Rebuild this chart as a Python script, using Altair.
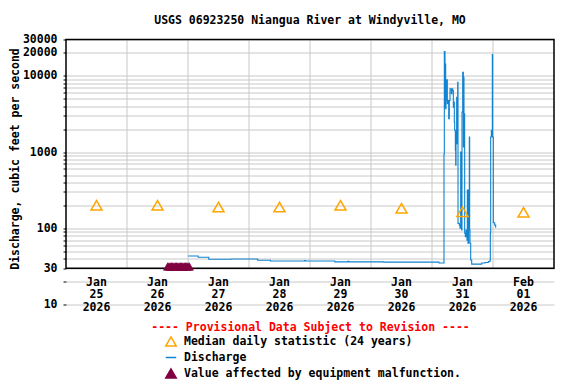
import altair as alt
import pandas as pd

FONT = "DejaVu Sans Mono"
BLUE = "#1084d0"
ORANGE = "#ffa500"
MAROON = "#800040"
GRID = "#c8c8c8"

title_text = "USGS 06923250 Niangua River at Windyville, MO"
y_title = "Discharge, cubic feet per second"
provisional = "---- Provisional Data Subject to Revision ----"
series_names = ["Median daily statistic (24 years)", "Discharge",
                "Value affected by equipment malfunction."]
series_colors = [ORANGE, BLUE, MAROON]

# x tick labels (placed at noon of each day)
day_label_times = ["2026-01-25 12:00", "2026-01-26 12:00", "2026-01-27 12:00", "2026-01-28 12:00",
                   "2026-01-29 12:00", "2026-01-30 12:00", "2026-01-31 12:00", "2026-02-01 12:00"]
day_label_text = ["Jan\n25\n2026", "Jan\n26\n2026", "Jan\n27\n2026", "Jan\n28\n2026",
                  "Jan\n29\n2026", "Jan\n30\n2026", "Jan\n31\n2026", "Feb\n01\n2026"]
day_boundaries = ["2026-01-26 00:00", "2026-01-27 00:00", "2026-01-28 00:00", "2026-01-29 00:00",
                  "2026-01-30 00:00", "2026-01-31 00:00", "2026-02-01 00:00"]

# median daily statistic
median_times = ["2026-01-25 12:00", "2026-01-26 12:00", "2026-01-27 12:00", "2026-01-28 12:00",
                "2026-01-29 12:00", "2026-01-30 12:00", "2026-01-31 12:00", "2026-02-01 12:00"]
median_values = [200, 200, 190, 190, 200, 183, 165, 162]

# equipment malfunction markers
malf_times = ["2026-01-26 16:00", "2026-01-26 16:30", "2026-01-26 17:00", "2026-01-26 17:30",
              "2026-01-26 18:00", "2026-01-26 18:30", "2026-01-26 19:00", "2026-01-26 19:30",
              "2026-01-26 20:00", "2026-01-26 20:30", "2026-01-26 21:00", "2026-01-26 21:30",
              "2026-01-26 22:00", "2026-01-26 22:30", "2026-01-26 23:00", "2026-01-26 23:30",
              "2026-01-27 00:00", "2026-01-27 00:30"]
malf_values = [31.6, 31.6, 31.6, 31.6, 31.6, 31.6, 31.6, 31.6, 31.6,
               31.6, 31.6, 31.6, 31.6, 31.6, 31.6, 31.6, 31.6, 31.6]

# discharge
q_times = ["2026-01-27 00:00", "2026-01-27 04:00", "2026-01-27 08:10", "2026-01-27 17:00",
           "2026-01-28 03:25", "2026-01-28 08:25", "2026-01-28 21:50", "2026-01-28 22:20",
           "2026-01-29 09:45", "2026-01-29 14:50", "2026-01-29 15:20", "2026-01-30 05:00",
           "2026-01-31 02:45", "2026-01-31 04:43", "2026-01-31 04:51", "2026-01-31 05:07",
           "2026-01-31 05:15", "2026-01-31 05:23", "2026-01-31 05:30", "2026-01-31 05:46",
           "2026-01-31 06:02", "2026-01-31 06:18", "2026-01-31 06:34", "2026-01-31 06:49",
           "2026-01-31 07:05", "2026-01-31 07:21", "2026-01-31 07:36", "2026-01-31 07:52",
           "2026-01-31 08:08", "2026-01-31 08:24", "2026-01-31 08:31", "2026-01-31 08:47",
           "2026-01-31 08:55", "2026-01-31 09:11", "2026-01-31 09:19", "2026-01-31 09:27",
           "2026-01-31 09:42", "2026-01-31 09:50", "2026-01-31 10:06", "2026-01-31 10:14",
           "2026-01-31 10:45", "2026-01-31 11:01", "2026-01-31 11:17", "2026-01-31 11:32",
           "2026-01-31 11:40", "2026-01-31 11:48", "2026-01-31 12:04", "2026-01-31 12:20",
           "2026-01-31 12:28", "2026-01-31 12:35", "2026-01-31 12:51", "2026-01-31 13:07",
           "2026-01-31 13:23", "2026-01-31 13:38", "2026-01-31 13:46", "2026-01-31 13:54",
           "2026-01-31 14:10", "2026-01-31 14:26", "2026-01-31 14:41", "2026-01-31 14:49",
           "2026-01-31 14:57", "2026-01-31 15:13", "2026-01-31 15:37", "2026-01-31 19:33",
           "2026-01-31 20:51", "2026-01-31 22:10", "2026-01-31 22:49", "2026-01-31 22:57",
           "2026-01-31 23:05", "2026-01-31 23:21", "2026-01-31 23:37", "2026-01-31 23:44",
           "2026-01-31 23:52", "2026-02-01 00:08", "2026-02-01 00:40", "2026-02-01 01:03",
           "2026-02-01 01:15"]
q_values = [43.3, 41.7, 39.3, 39.6,
            38.1, 37.3, 37.8, 37.3,
            36.3, 37.0, 36.3, 36.0,
            35.0, 935, 20800, 3890,
            14300, 3700, 4750, 8860,
            4300, 4750, 2740, 4750,
            6750, 6750, 5820, 6750,
            6420, 3890, 4520, 2470,
            1930, 1055, 672, 1930,
            5250, 1290, 8250, 116,
            110, 100, 1000, 116,
            95, 3340, 11100, 1170,
            9590, 3180, 86, 77.5,
            95, 81.6, 70, 317,
            63.5, 317, 1575, 95,
            63.5, 38.4, 33.9, 35.0,
            35.5, 36.6, 38.4, 86,
            1575, 1930, 1575, 19000,
            1575, 118, 110, 103,
            103]

y_grid_values = [10, 20, 30, 40, 50, 60, 70, 80, 90,
                 100, 200, 300, 400, 500, 600, 700, 800, 900,
                 1000, 2000, 3000, 4000, 5000, 6000, 7000, 8000, 9000,
                 10000, 20000, 30000]
y_label_values = [10, 30, 100, 1000, 10000, 20000, 30000]

frame_start = "2026-01-25 00:00"
frame_end = "2026-02-02 00:00"
frame_low = 30
frame_high = 30000
label_level = 20

# ---------------- data tables ----------------
df_q = pd.DataFrame({"t": q_times, "v": q_values, "s": series_names[1]})
df_med = pd.DataFrame({"t": median_times, "v": median_values, "s": series_names[0]})
df_malf = pd.DataFrame({"t": malf_times, "v": malf_values, "s": series_names[2]})
df_lab = pd.DataFrame({"t": day_label_times, "lab": day_label_text, "v": label_level})
df_vr = pd.DataFrame({"t": day_boundaries, "v": frame_low, "v2": frame_high})
df_frame = pd.DataFrame({"t": [frame_start], "t2": [frame_end], "v": [frame_low], "v2": [frame_high]})

# ---------------- scales / axes ----------------
x_scale = alt.Scale(domain=[alt.DateTime(year=2026, month=1, date=25, hours=0),
                            alt.DateTime(year=2026, month=2, date=2, hours=0)])
x_axis = alt.Axis(title=provisional, labels=False, ticks=False, domain=False, grid=False,
                  titleColor="red", titleFont=FONT, titleFontSize=11.5, titleFontWeight="bold",
                  titlePadding=17)

label_list = ",".join(str(v) for v in y_label_values)
y_scale = alt.Scale(type="log", domain=[10, 30000], nice=False)
y_axis = alt.Axis(values=y_grid_values, format="d",
                  labelExpr=f"indexof([{label_list}], datum.value) >= 0 ? datum.label : ''",
                  grid=True, gridColor=GRID, gridWidth=1,
                  ticks=True, tickColor="black", tickSize=3, tickWidth=1, domain=False,
                  labelFont=FONT, labelFontSize=11.5, labelFontWeight="bold", labelColor="black",
                  labelPadding=6, labelOverlap=False, labelFlush=False,
                  title=y_title, titleFont=FONT, titleFontSize=11.5, titleFontWeight="bold",
                  titleColor="black", titleX=-51, titleY=119, titleBaseline="middle")

X = alt.X("t:T", scale=x_scale, axis=x_axis)
Y = alt.Y("v:Q", scale=y_scale, axis=y_axis)

is_q = "datum.value === 'Discharge'"
is_m = "datum.value === 'Median daily statistic (24 years)'"
legend = alt.Legend(
    title=None, orient="none", legendX=99, legendY=296, direction="vertical",
    labelFont=FONT, labelFontSize=11.5, labelFontWeight="bold", labelColor="black",
    labelOffset=7, labelLimit=400, rowPadding=2, symbolSize=110, symbolStrokeWidth=1.5, padding=0,
    symbolType=alt.ExprRef(expr=f"{is_q} ? 'stroke' : 'triangle-up'"),
    symbolFillColor=alt.ExprRef(expr=f"({is_q} || {is_m}) ? 'transparent' : '{MAROON}'"),
)
stroke_scale = alt.Scale(domain=series_names, range=series_colors)
S = alt.Stroke("s:N", scale=stroke_scale, legend=legend)
S_nolegend = alt.Stroke("s:N", scale=stroke_scale, legend=None)

vrules = alt.Chart(df_vr).mark_rule(color=GRID, strokeWidth=1).encode(x=X, y=Y, y2="v2")
labels = alt.Chart(df_lab).mark_text(font=FONT, fontSize=11.5, fontWeight="bold", color="black",
                                     lineBreak="\n", lineHeight=12.8, baseline="middle", dy=1).encode(
    x=X, y=Y, text="lab:N")
line = alt.Chart(df_q).mark_line(interpolate="step-after", strokeWidth=1.1).encode(x=X, y=Y, stroke=S)
median = alt.Chart(df_med).mark_point(shape="triangle-up", filled=False, size=121, strokeWidth=1.5,
                                      opacity=1).encode(x=X, y=Y, stroke=S_nolegend)
frame = alt.Chart(df_frame).mark_rect(fillOpacity=0, stroke="black", strokeWidth=1.5).encode(
    x=X, x2="t2", y=Y, y2="v2")
malf = alt.Chart(df_malf).mark_point(shape="triangle-up", filled=True, size=90, opacity=1,
                                     color=MAROON).encode(x=X, y=Y)

chart = alt.layer(vrules, labels, line, median, frame, malf).properties(
    width=488, height=265,
    autosize=alt.AutoSizeParams(type="none"),
    padding={"left": 58, "top": 31.5, "right": 10, "bottom": 75},
    title=alt.Title(title_text, font=FONT, fontSize=11.5, fontWeight="bold", color="black",
                    anchor="middle", offset=-2, baseline="alphabetic"),
).configure_view(stroke=None)

chart.save("out.html", embed_options={"renderer": "svg", "actions": False})
